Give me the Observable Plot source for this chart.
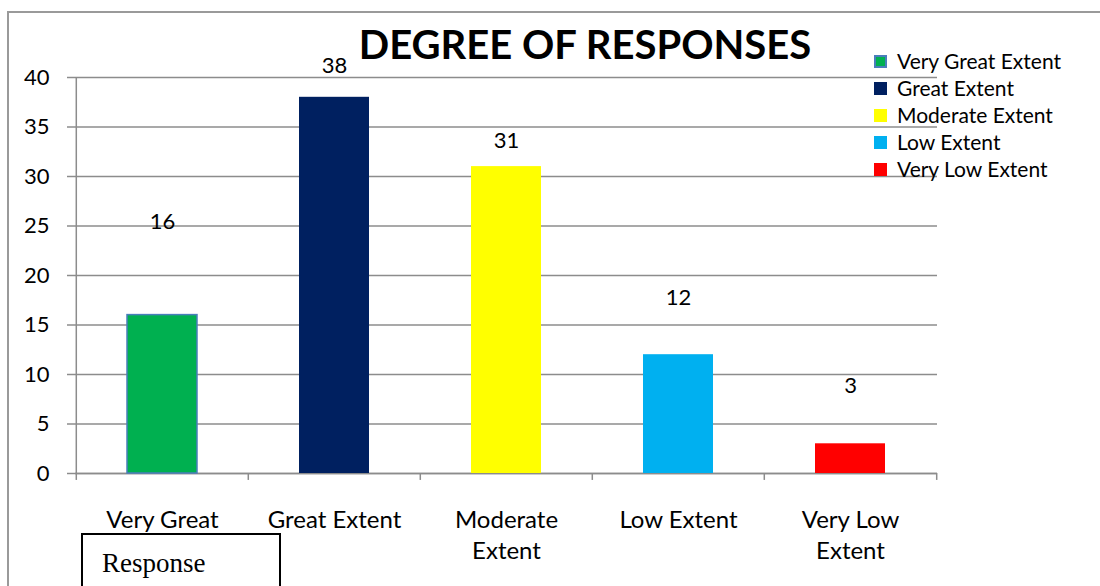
<!DOCTYPE html>
<html>
<head>
<meta charset="utf-8">
<script src="https://cdn.jsdelivr.net/npm/d3@7"></script>
<script src="https://cdn.jsdelivr.net/npm/@observablehq/plot@0.6"></script>
<style>
  html, body { margin: 0; padding: 0; background: #fff; }
  #wrap { position: relative; width: 1100px; height: 586px; overflow: hidden; font-family: Lato, "Open Sans", sans-serif; }
  #border { position: absolute; left: 7px; top: 11px; width: 1200px; height: 700px; border: 2px solid #9a9a9a; box-sizing: border-box; }
  #chart { position: absolute; left: 0; top: 0; }
  #title { position: absolute; left: 330px; width: 510px; top: 21px; text-align: center; font-weight: 700; font-size: 40px; color: #000; white-space: nowrap; line-height: 46px; }
  #legend { position: absolute; left: 874px; top: 50px; font-size: 21px; color: #000; }
  .li { position: relative; height: 27px; line-height: 22px; white-space: nowrap; }
  .sw { position: absolute; left: 0; top: 5px; width: 13px; height: 13px; box-sizing: border-box; }
  .lt { position: absolute; left: 23px; top: 0; }
  #resp { position: absolute; left: 81px; top: 533px; width: 200px; height: 80px; border: 2px solid #000; box-sizing: border-box; background: #fff; font-family: "Liberation Serif", "DejaVu Serif", serif; font-size: 27px; padding: 13px 0 0 19px; }
</style>
</head>
<body>
<div id="wrap">
  <div id="border"></div>
  <div id="chart"></div>
  <div id="title"></div>
  <div id="legend"></div>
  <div id="resp">Response</div>
</div>
<script>
// ---- data ----
const categories = ["Very Great Extent", "Great Extent", "Moderate Extent", "Low Extent", "Very Low Extent"];
const axisLabels = ["Very Great", "Great Extent", "Moderate\nExtent", "Low Extent", "Very Low\nExtent"];
const values = [16, 38, 31, 12, 3];
const labelAt = [25.4, 41.2, 33.6, 17.7, 8.8]; // where Excel placed each data label (value units)
const colors = ["#00B050", "#002060", "#FFFF00", "#00B0F0", "#FF0000"];
const outlines = ["#4A7EBB", "none", "none", "none", "none"];
const yTicks = [0, 5, 10, 15, 20, 25, 30, 35, 40];
const titleText = "DEGREE OF RESPONSES";

const rows = categories.map((c, i) => ({
  cat: c, value: values[i], label: labelAt[i], color: colors[i], outline: outlines[i], tick: axisLabels[i]
}));
const tickLabel = new Map(categories.map((c, i) => [c, axisLabels[i]]));

const grid = "#8c8c8c";
const plot = Plot.plot({
  width: 1100,
  height: 586,
  marginLeft: 75,
  marginRight: 163,
  marginTop: 77,
  marginBottom: 113,
  style: { fontFamily: "Lato, 'Open Sans', sans-serif", background: "transparent", overflow: "visible" },
  x: { domain: categories, paddingInner: 0.594, paddingOuter: 0.297, axis: null },
  y: { domain: [0, 40], axis: null },
  marks: [
    Plot.gridY(yTicks, { stroke: grid, strokeOpacity: 1, strokeWidth: 1.5 }),
    Plot.axisY(yTicks, { tickSize: 8, tickPadding: 18, stroke: grid, strokeWidth: 1.5, fontSize: 22, fill: "#000", label: null }),
    Plot.ruleX(categories, { x: d => d, dx: -86.2, y1: 0, y2: -0.7, stroke: grid, strokeWidth: 1.5 }),
    Plot.ruleX(categories.slice(-1), { x: d => d, dx: 86.2, y1: 0, y2: -0.7, stroke: grid, strokeWidth: 1.5 }),
    Plot.ruleX(categories.slice(0, 1), { x: d => d, dx: -86.2, y1: 0, y2: 40, stroke: grid, strokeWidth: 1.5 }),
    Plot.ruleY([0], { stroke: grid, strokeWidth: 1.5 }),
    Plot.barY(rows, { x: "cat", y: "value", fill: "color", stroke: "outline", strokeWidth: 1.5 }),
    Plot.text(rows, { x: "cat", y: "label", text: d => String(d.value), fontSize: 22, fill: "#000", lineAnchor: "middle" }),
    Plot.axisX(categories, { tickSize: 0, tickPadding: 32, fontSize: 24, fill: "#000", lineHeight: 1.3, label: null, tickFormat: c => tickLabel.get(c) })
  ]
});
document.getElementById("chart").appendChild(plot);

document.getElementById("title").textContent = titleText;

const legend = document.getElementById("legend");
categories.forEach((c, i) => {
  const row = document.createElement("div");
  row.className = "li";
  const sw = document.createElement("div");
  sw.className = "sw";
  sw.style.background = colors[i];
  if (outlines[i] !== "none") sw.style.border = "2px solid " + outlines[i];
  const t = document.createElement("div");
  t.className = "lt";
  t.textContent = c;
  row.appendChild(sw);
  row.appendChild(t);
  legend.appendChild(row);
});
</script>
</body>
</html>
